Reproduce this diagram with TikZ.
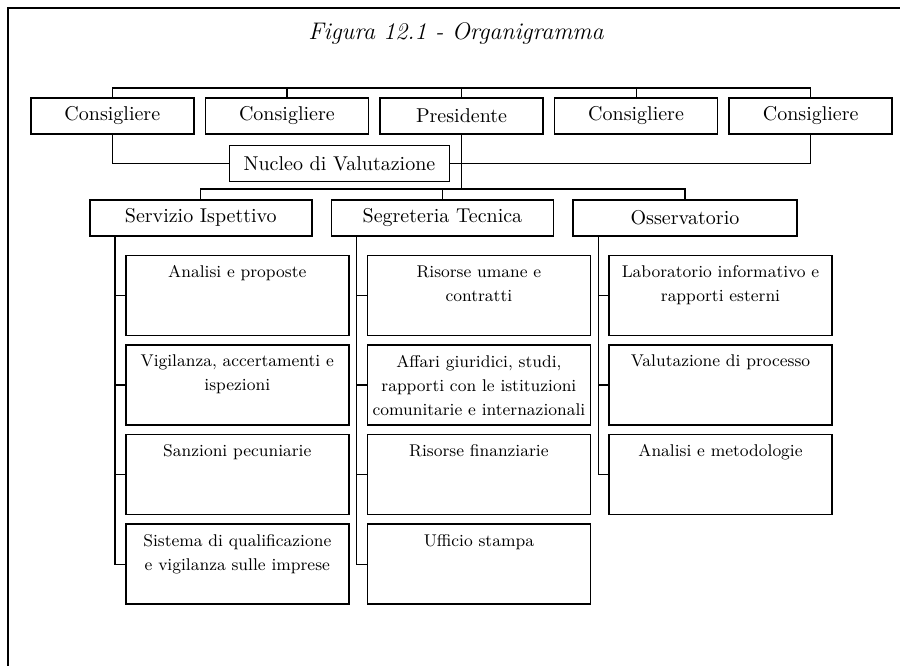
\documentclass[tikz,border=0pt]{standalone}
\usepackage{fontspec}
\usetikzlibrary{positioning}
\newcommand{\officetext}[1]{\parbox[t][30pt][t]{111pt}{\centering #1}}
\begin{document}
\begin{tikzpicture}[topnode/.style={rectangle,
					draw=black,
					line width=0.8pt,
					minimum width=81.5pt,
					minimum height=18pt,
					inner sep=1pt,
					font=\fontsize{10}{12}\selectfont},
					unitnode/.style={topnode,
					minimum width=111pt},
					officenode/.style={rectangle,
					draw=black,
					line width=0.8pt,
					minimum width=111.5pt,
					minimum height=40pt,
					inner xsep=0.25pt,
					inner ysep=1pt,
					font=\fontsize{8.5}{12}\selectfont},
					link/.style={line width=0.6pt}
					]

% page size and frame
\useasboundingbox (0,0) rectangle (450pt,-333pt);
\draw[line width=0.8pt] (450pt,-4pt) -- (4pt,-4pt) -- (4pt,-333pt);

\node (title) at (228pt,-16.5pt) {\fontsize{12}{14}\selectfont\itshape Figura 12.1 - Organigramma};

%top row
\node[topnode, anchor=north west] (cons1) at (15pt,-48.5pt) {Consigliere};
\node[topnode, right=5pt of cons1] (cons2) {Consigliere};
\node[topnode, right=5pt of cons2] (pres) {Presidente};
\node[topnode, right=5pt of pres] (cons3) {Consigliere};
\node[topnode, right=5pt of cons3] (cons4) {Consigliere};

\node[topnode, minimum width=110pt, below=5pt of cons2.south west, anchor=north west, xshift=12pt] (nucleo) {Nucleo di Valutazione};

%units
\node[unitnode, anchor=north west] (serv) at (44.5pt,-99.5pt) {Servizio Ispettivo};
\node[unitnode, right=9pt of serv] (segr) {Segreteria Tecnica};
\node[unitnode, minimum width=112pt, right=9pt of segr] (oss) {Osservatorio};

%offices
\node[officenode, below=9pt of serv.south west, anchor=north west, xshift=18pt] (serv1) {\officetext{Analisi e proposte}};
\node[officenode, below=4pt of serv1] (serv2) {\officetext{Vigilanza, accertamenti e\\ispezioni}};
\node[officenode, below=4pt of serv2] (serv3) {\officetext{Sanzioni pecuniarie}};
\node[officenode, below=4pt of serv3] (serv4) {\officetext{Sistema di qualificazione\\e vigilanza sulle imprese}};

\node[officenode, below=9pt of segr.south west, anchor=north west, xshift=18pt] (segr1) {\officetext{Risorse umane e\\contratti}};
\node[officenode, below=4pt of segr1] (segr2) {\officetext{Affari giuridici, studi,\\rapporti con le istituzioni\\comunitarie e internazionali}};
\node[officenode, below=4pt of segr2] (segr3) {\officetext{Risorse finanziarie}};
\node[officenode, below=4pt of segr3] (segr4) {\officetext{Ufficio stampa}};

\node[officenode, below=9pt of oss.south west, anchor=north west, xshift=18pt] (oss1) {\officetext{Laboratorio informativo e\\rapporti esterni}};
\node[officenode, below=4pt of oss1] (oss2) {\officetext{Valutazione di processo}};
\node[officenode, below=4pt of oss2] (oss3) {\officetext{Analisi e metodologie}};

% top links
\draw[link] (cons1.north) -- ++(0,4.5pt) coordinate (topbus) -| (cons4.north);
\foreach \n in {cons2,pres,cons3} \draw[link] (\n.north) -- (\n.north |- topbus);
\draw[link] (cons1.south) |- (nucleo.west);
\draw[link] (cons4.south) |- (nucleo.east);

% unit links
\draw[link] (serv.north) -- ++(0,5pt) coordinate (midbus) -| (oss.north);
\draw[link] (segr.north) -- (segr.north |- midbus);
\draw[link] (pres.south) -- (pres.south |- midbus);

% office links
\coordinate[left=5pt of serv1.west] (servspine);
\coordinate[left=5pt of segr1.west] (segrspine);
\coordinate[left=5pt of oss1.west] (ossspine);
\draw[link] (servspine |- serv.south) |- (serv4.west);
\draw[link] (segrspine |- segr.south) |- (segr4.west);
\draw[link] (ossspine |- oss.south) |- (oss3.west);
\foreach \i in {1,2,3} \draw[link] (serv\i.west) -- (serv\i.west -| servspine);
\foreach \i in {1,2,3} \draw[link] (segr\i.west) -- (segr\i.west -| segrspine);
\foreach \i in {1,2} \draw[link] (oss\i.west) -- (oss\i.west -| ossspine);

\end{tikzpicture}
\end{document}
